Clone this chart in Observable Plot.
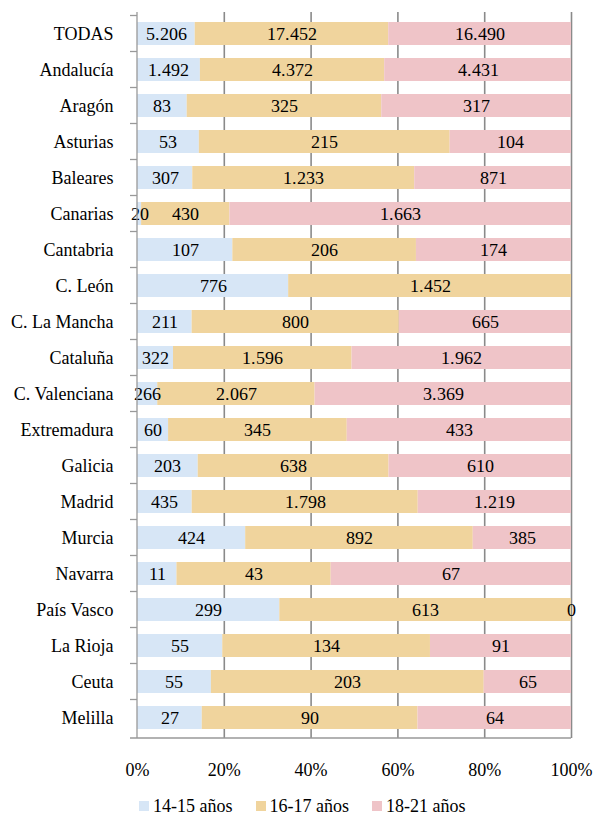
<!DOCTYPE html>
<html><head><meta charset="utf-8">
<style>
@font-face{font-family:"ChartSerif";src:local("Liberation Serif"),local("LiberationSerif"),local("Tinos"),local("Times New Roman");}
</style>
<script src="https://cdn.jsdelivr.net/npm/d3@7"></script>
<script src="https://cdn.jsdelivr.net/npm/@observablehq/plot@0.6"></script>
</head><body style="margin:0;background:#fff">
<div id="wrap" style="position:relative;width:594px;height:816px">
<div id="chart"></div>
<div id="legend" style="position:absolute;left:139px;top:795px;display:flex;gap:23px;font-size:18px;line-height:22px;color:#000;font-family:Times"></div>
</div>
<script>
const categories = ["TODAS","Andalucía","Aragón","Asturias","Baleares","Canarias","Cantabria","C. León","C. La Mancha","Cataluña","C. Valenciana","Extremadura","Galicia","Madrid","Murcia","Navarra","País Vasco","La Rioja","Ceuta","Melilla"];
const series = ["14-15 años","16-17 años","18-21 años"];
const v1415 = [5206,1492,83,53,307,20,107,776,211,322,266,60,203,435,424,11,299,55,55,27];
const v1617 = [17452,4372,325,215,1233,430,206,1452,800,1596,2067,345,638,1798,892,43,613,134,203,90];
const v1821 = [16490,4431,317,104,871,1663,174,null,665,1962,3369,433,610,1219,385,67,0,91,65,64];
const xTicks = [0,0.2,0.4,0.6,0.8,1];
const colors = ["#d7e6f6","#f0d49d","#efc4c8"];

const fmt = d3.formatLocale({decimal:",", thousands:".", grouping:[3], currency:["","€"]}).format(",d");
const valuesBySeries = [v1415, v1617, v1821];
const rows = [];
categories.forEach((c, i) => {
  series.forEach((s, j) => {
    const v = valuesBySeries[j][i];
    rows.push({cat: c, series: s, value: v == null ? 0 : v, label: v == null ? null : fmt(v)});
  });
});

function axesMark(index, scales, values, dim) {
  const ns = "http://www.w3.org/2000/svg";
  const g = document.createElementNS(ns, "g");
  const top = dim.marginTop, bottom = dim.height - dim.marginBottom;
  const left = dim.marginLeft, right = dim.width - dim.marginRight;
  const y = scales.y;
  const bw = y.bandwidth ? y.bandwidth() : 0;
  const step = y.step ? y.step() : (bottom - top) / categories.length;
  const line = (x1, y1, x2, y2, c, w) => {
    const l = document.createElementNS(ns, "line");
    l.setAttribute("x1", x1); l.setAttribute("y1", y1);
    l.setAttribute("x2", x2); l.setAttribute("y2", y2);
    l.setAttribute("stroke", c); l.setAttribute("stroke-width", w);
    g.appendChild(l);
  };
  line(left, top, left, bottom, "#999", 1.3);
  line(left - 7, bottom, right, bottom, "#999", 1.3);
  categories.forEach((c) => {
    const b = y(c) + bw / 2 - step / 2;
    line(left - 7, b, left, b, "#999", 1.3);
  });
  return g;
}

const plot = Plot.plot({
  width: 594,
  height: 792,
  marginLeft: 137,
  marginRight: 23,
  marginTop: 12,
  marginBottom: 54,
  style: {fontFamily: "Tinos", fontSize: "18px", color: "#000", background: "#fff"},
  x: {domain: [0, 1], ticks: xTicks, tickFormat: d => Math.round(d * 100) + "%", label: null, tickSize: 0, tickPadding: 25},
  y: {domain: categories, paddingInner: 0.37, paddingOuter: 0.185, align: 0.5, label: null, tickSize: 0, tickPadding: 24},
  color: {domain: series, range: colors},
  marks: [
    Plot.ruleX(xTicks.slice(1), {stroke: "#8a8a8a", strokeWidth: 1.6}),
    Plot.barX(rows, Plot.stackX({x: "value", y: "cat", fill: "series", offset: "normalize"})),
    Plot.text(rows.filter(d => d.label != null), Plot.stackX({x: "value", y: "cat", z: "series", offset: "normalize", text: "label", fill: "#000", fontSize: 18, fontFamily: "ChartSerif"})),
    axesMark
  ]
});
document.getElementById("chart").appendChild(plot);

const legend = document.getElementById("legend");
series.forEach((s, i) => {
  const it = document.createElement("span");
  it.style.display = "flex";
  it.style.alignItems = "center";
  const sw = document.createElement("span");
  sw.style.cssText = "width:10px;height:10px;margin-right:4px;display:inline-block;background:" + colors[i];
  it.appendChild(sw);
  it.appendChild(document.createTextNode(s));
  legend.appendChild(it);
});
</script>
</body></html>
